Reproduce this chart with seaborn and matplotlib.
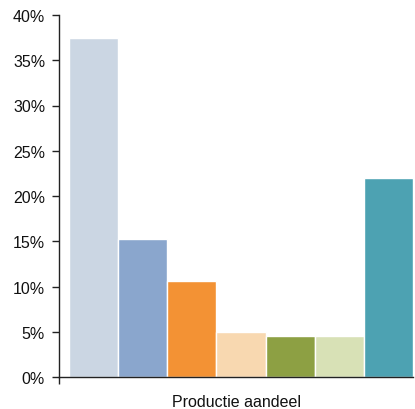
import matplotlib
matplotlib.use("Agg")
import matplotlib.pyplot as plt
import seaborn as sns
import pandas as pd
from matplotlib.ticker import FuncFormatter

# Production share per source (percent)
category = ["Productie aandeel"]
series = ["Bron 1", "Bron 2", "Bron 3", "Bron 4", "Bron 5", "Bron 6", "Bron 7"]
values = [37.5, 15.3, 10.6, 5.0, 4.5, 4.5, 22.0]
colors = ["#CBD6E3", "#8AA6CD", "#F39234", "#F8D8B0", "#8DA043", "#D8E1B6", "#4DA2B2"]
y_ticks = [0, 5, 10, 15, 20, 25, 30, 35, 40]

df = pd.DataFrame({
    "categorie": category * len(series),
    "bron": series,
    "aandeel": values,
})

sns.set_style("white")
plt.rcParams["font.family"] = ["Liberation Sans", "DejaVu Sans"]

fig = plt.figure(figsize=(4.15, 4.10), dpi=100)
ax = fig.add_axes([59 / 415, 1 - 378 / 410, 354 / 415, 362 / 410])

sns.barplot(
    data=df, x="categorie", y="aandeel", hue="bron",
    palette=colors, width=0.8, legend=False, ax=ax,
    edgecolor="white", linewidth=1.0, saturation=1.0,
)

ax.set_ylim(0, 40)
ax.set_xlim(-0.4233, 0.4)
ax.set_yticks(y_ticks)
ax.yaxis.set_major_formatter(FuncFormatter(lambda v, _: f"{v:.0f}%"))
ax.set_xticks([-0.4233])
ax.set_xticklabels([""])
ax.set_xlabel("Productie aandeel", fontsize=11.5, color="#111111", labelpad=7)
ax.set_ylabel("")

for side in ["top", "right"]:
    ax.spines[side].set_visible(False)
for side in ["left", "bottom"]:
    ax.spines[side].set_color("#222222")
    ax.spines[side].set_linewidth(1.0)

ax.tick_params(axis="y", direction="out", length=5, width=1, color="#222222",
               labelsize=11.5, labelcolor="#111111", pad=5, left=True)
ax.tick_params(axis="x", direction="out", length=5, width=1, color="#222222",
               bottom=True, pad=0, labelsize=6)

fig.savefig("out.png", dpi=100)
